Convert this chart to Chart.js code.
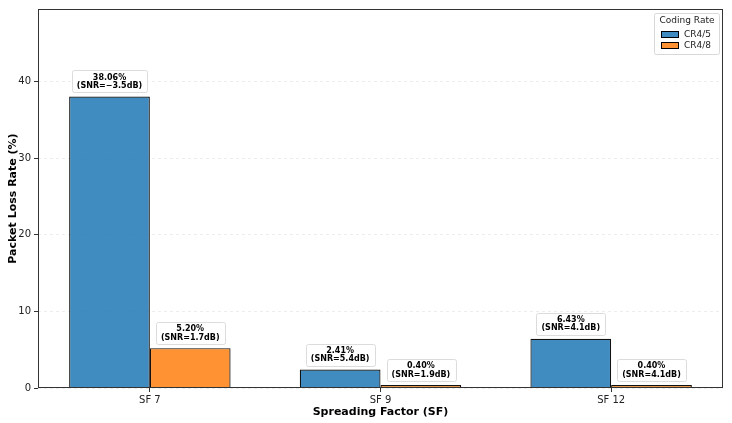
<!DOCTYPE html>
<html><head><meta charset="utf-8">
<script src="https://cdn.jsdelivr.net/npm/chart.js@4.4.0/dist/chart.umd.min.js"></script>
<style>html,body{margin:0;padding:0;background:#fff}#wrap{width:732px;height:423px}</style>
</head><body><div id="wrap"><canvas id="c" width="732" height="423"></canvas></div>
<script>
const categories = ['SF 7', 'SF 9', 'SF 12'];
const cr45 = [38.06, 2.41, 6.43];
const cr48 = [5.20, 0.40, 0.40];
const snr45 = ['−3.5', '5.4', '4.1'];
const snr48 = ['1.7', '1.9', '4.1'];
const yTicks = [0, 10, 20, 30, 40];
const seriesNames = ['CR4/5', 'CR4/8'];
const legendTitle = 'Coding Rate';

const FONT = "'DejaVu Sans', sans-serif";
const blue = 'rgba(31,119,180,0.85)';
const orange = 'rgba(255,127,14,0.85)';
const snrs = [snr45, snr48];

const frame = {
  id: 'frame',
  afterDraw(chart) {
    const a = chart.chartArea, ctx = chart.ctx;
    ctx.save();
    ctx.strokeStyle = '#333';
    ctx.lineWidth = 1;
    ctx.strokeRect(Math.round(a.left) + 0.5, Math.round(a.top) + 0.5, Math.round(a.right - a.left) - 1, Math.round(a.bottom - a.top) - 1);
    ctx.restore();
  }
};

function roundRect(ctx, x, y, w, h, r) {
  ctx.beginPath();
  ctx.moveTo(x + r, y);
  ctx.lineTo(x + w - r, y); ctx.quadraticCurveTo(x + w, y, x + w, y + r);
  ctx.lineTo(x + w, y + h - r); ctx.quadraticCurveTo(x + w, y + h, x + w - r, y + h);
  ctx.lineTo(x + r, y + h); ctx.quadraticCurveTo(x, y + h, x, y + h - r);
  ctx.lineTo(x, y + r); ctx.quadraticCurveTo(x, y, x + r, y);
  ctx.closePath();
}

const labels = {
  id: 'barLabels',
  afterDatasetsDraw(chart) {
    const ctx = chart.ctx;
    ctx.save();
    ctx.font = 'bold 8px ' + FONT;
    ctx.textAlign = 'center';
    ctx.textBaseline = 'middle';
    chart.data.datasets.forEach((ds, di) => {
      const meta = chart.getDatasetMeta(di);
      meta.data.forEach((el, i) => {
        const v = ds.data[i].y;
        const l1 = v.toFixed(2) + '%';
        const l2 = '(SNR=' + snrs[di][i] + 'dB)';
        const w = Math.max(ctx.measureText(l1).width, ctx.measureText(l2).width) + 10;
        const x = el.x, top = el.y;
        ctx.fillStyle = 'rgba(255,255,255,0.9)';
        ctx.strokeStyle = '#dcdcdc';
        ctx.lineWidth = 1;
        roundRect(ctx, Math.round(x - w / 2) + 0.5, Math.round(top - 26) + 0.5, Math.round(w), 22, 2);
        ctx.fill(); ctx.stroke();
        ctx.fillStyle = '#000';
        ctx.fillText(l1, x, top - 19);
        ctx.fillText(l2, x, top - 10.5);
      });
    });
    ctx.restore();
  }
};

const legendBox = {
  id: 'legendBox',
  afterDraw(chart) {
    const ctx = chart.ctx, a = chart.chartArea;
    ctx.save();
    const right = a.right - 4, top = a.top + 4;
    const w = 65, h = 41;
    const left = right - w;
    ctx.fillStyle = 'rgba(255,255,255,0.8)';
    ctx.strokeStyle = '#d8d8d8';
    roundRect(ctx, left + 0.5, top + 0.5, w, h, 2);
    ctx.fill(); ctx.stroke();
    ctx.fillStyle = '#222';
    ctx.font = '9px ' + FONT;
    ctx.textAlign = 'center';
    ctx.textBaseline = 'middle';
    ctx.fillText(legendTitle, left + w / 2 + 0.5, top + 8);
    const cols = [blue, orange];
    ctx.font = '9px ' + FONT;
    ctx.textAlign = 'left';
    seriesNames.forEach((n, i) => {
      const y = top + 21 + i * 11;
      ctx.fillStyle = cols[i];
      ctx.fillRect(left + 7, y - 3, 18, 6);
      ctx.strokeStyle = '#000';
      ctx.lineWidth = 1;
      ctx.strokeRect(left + 7.5, y - 2.5, 17, 6);
      ctx.fillStyle = '#222';
      ctx.fillText(n, left + 30, y + 0.5);
    });
    ctx.restore();
  }
};

new Chart(document.getElementById('c'), {
  type: 'bar',
  data: {
    datasets: [
      { label: seriesNames[0], data: cr45.map((v, i) => ({ x: i, y: v })), backgroundColor: blue, borderColor: '#111', borderWidth: 1.2 },
      { label: seriesNames[1], data: cr48.map((v, i) => ({ x: i, y: v })), backgroundColor: orange, borderColor: '#111', borderWidth: 1.2 }
    ]
  },
  options: {
    responsive: false,
    animation: false,
    devicePixelRatio: 1,
    categoryPercentage: 0.7,
    barPercentage: 1.0,
    layout: { padding: { left: 0, right: 9, top: 8, bottom: 0 } },
    plugins: { legend: { display: false }, tooltip: { enabled: false } },
    scales: {
      x: {
        type: 'linear',
        offset: false,
        min: -0.485, max: 2.485,
        afterBuildTicks: s => { s.ticks = categories.map((_, i) => ({ value: i })); },
        afterFit: s => { s.height = 35; },
        grid: { offset: false, drawOnChartArea: false, tickLength: 4, tickColor: '#333', tickWidth: 1 },
        border: { display: false },
        ticks: { callback: v => categories[v], color: '#222', font: { family: FONT, size: 10 }, padding: 2, maxRotation: 0 },
        title: { display: true, text: 'Spreading Factor (SF)', color: '#000', font: { family: FONT, size: 11, weight: 'bold' }, padding: { top: 1, bottom: 4 } }
      },
      y: {
        min: 0, max: 49.48,
        afterBuildTicks: s => { s.ticks = yTicks.map(v => ({ value: v })); },
        afterFit: s => { s.width = 38; },
        grid: { color: 'rgba(0,0,0,0.07)', borderDash: [3, 3], tickLength: 4, tickColor: '#333', tickBorderDash: [], tickWidth: 1 },
        border: { display: false, dash: [3, 3] },
        ticks: { color: '#222', font: { family: FONT, size: 10 }, padding: 3 },
        title: { display: true, text: 'Packet Loss Rate (%)', color: '#000', font: { family: FONT, size: 11, weight: 'bold' }, padding: { top: 7, bottom: 2 } }
      }
    }
  },
  plugins: [frame, labels, legendBox]
});
</script></body></html>
